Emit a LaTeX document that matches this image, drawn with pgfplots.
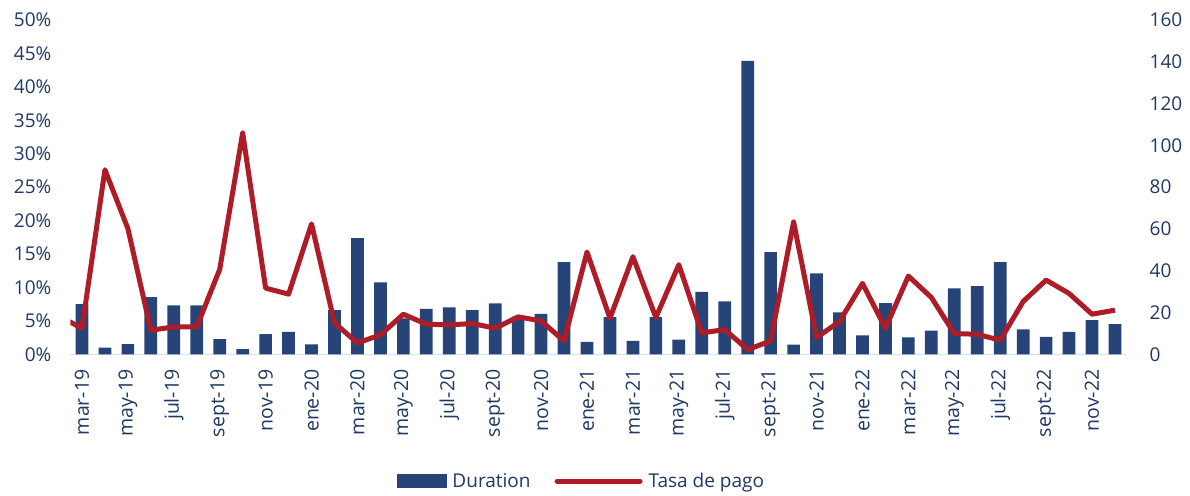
\documentclass[border=0pt]{standalone}
\usepackage{fontspec}
\setmainfont{Open Sans}
\usepackage{pgfplots}
\pgfplotsset{compat=1.18}
\definecolor{navy}{HTML}{264478}
\definecolor{tred}{HTML}{AE1C28}
\definecolor{txt}{HTML}{1F3864}
\definecolor{axl}{HTML}{D9DEEC}
\begin{document}
\begin{tikzpicture}
\useasboundingbox (-70.5pt,-140.7pt) rectangle (1119.5pt,354.3pt);
\pgfplotsset{
  common/.style={
    at={(0pt,0pt)}, anchor=south west,
    scale only axis, width=1056pt, height=334.3pt,
    xmin=-0.5, xmax=45.5,
    major tick length=0pt,
    tick label style={font=\fontsize{19}{22}\selectfont, text=txt, inner sep=0pt},
    /pgf/number format/assume math mode=true,
  }
}
\begin{axis}[
  common,
  ymin=0, ymax=160, ytick={0,20,...,160},
  axis x line*=bottom, axis y line*=right,
  x axis line style={draw=axl, line width=1.2pt, -},
  y axis line style={draw=none},
  xtick={0,2,...,44},
  xticklabels={mar-19,may-19,jul-19,sept-19,nov-19,ene-20,mar-20,may-20,jul-20,sept-20,nov-20,ene-21,mar-21,may-21,jul-21,sept-21,nov-21,ene-22,mar-22,may-22,jul-22,sept-22,nov-22},
  xticklabel style={rotate=90, anchor=east, font=\fontsize{19.5}{22}\selectfont},
  xticklabel shift=15pt,
  yticklabel shift=23pt,
  ybar, bar width=12.7pt,
]
\addplot[fill=navy, draw=none] coordinates {
(0,24.0) (1,3.2) (2,4.9) (3,27.4) (4,23.4) (5,23.4) (6,7.3) (7,2.5) (8,9.7) (9,10.7)
(10,4.8) (11,21.2) (12,55.6) (13,34.4) (14,17.2) (15,21.8) (16,22.4) (17,21.2) (18,24.4) (19,18.0)
(20,19.4) (21,44.1) (22,6.0) (23,17.8) (24,6.4) (25,17.8) (26,7.0) (27,29.9) (28,25.3) (29,140.4)
(30,48.9) (31,4.6) (32,38.7) (33,20.1) (34,9.1) (35,24.5) (36,8.1) (37,11.3) (38,31.5) (39,32.6)
(40,44.1) (41,11.9) (42,8.4) (43,10.7) (44,16.4) (45,14.5)
};
\end{axis}
\begin{axis}[
  common,
  ymin=0, ymax=50, ytick={0,5,...,50},
  yticklabel={\pgfmathprintnumber{\tick}\%},
  axis x line=none, axis y line*=left,
  y axis line style={draw=none},
  yticklabel shift=19pt,
  legend style={at={(0.484,-0.379)}, anchor=center, draw=none, fill=none,
    legend columns=2, font=\fontsize{19}{22}\selectfont, text=txt,
    /tikz/every odd column/.append style={column sep=4pt},
    /tikz/every even column/.append style={column sep=22pt},
    legend cell align=left},
]
\addlegendimage{legend image code/.code={\fill[navy] (0pt,-6.5pt) rectangle (49pt,6.5pt);}}
\addlegendentry{Duration}
\addplot[tred, line width=5pt, line join=round,
  legend image code/.code={\draw[tred, line width=5pt, line cap=round] (0pt,0pt) -- (83pt,0pt);}]
coordinates {
(-1,5.7) (0,3.9) (1,27.6) (2,18.8) (3,3.6) (4,4.1) (5,4.1) (6,12.7) (7,33.1) (8,9.9) (9,9.0)
(10,19.5) (11,4.7) (12,1.7) (13,2.9) (14,6.0) (15,4.5) (16,4.4) (17,4.6) (18,3.9) (19,5.6)
(20,5.0) (21,2.0) (22,15.3) (23,5.4) (24,14.6) (25,5.5) (26,13.4) (27,3.2) (28,3.7) (29,0.7)
(30,2.0) (31,19.8) (32,2.5) (33,4.9) (34,10.6) (35,3.9) (36,11.7) (37,8.5) (38,3.1) (39,3.0)
(40,2.1) (41,7.9) (42,11.1) (43,9.1) (44,6.0) (45,6.6)
};
\addlegendentry{Tasa de pago}
\end{axis}
\end{tikzpicture}
\end{document}
